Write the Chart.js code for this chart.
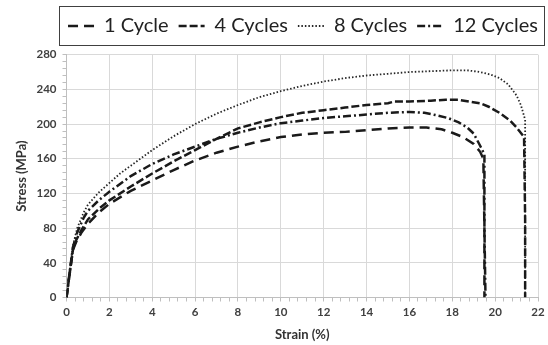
<!DOCTYPE html>
<html>
<head>
<meta charset="utf-8">
<script src="https://cdn.jsdelivr.net/npm/chart.js@4.4.1/dist/chart.umd.min.js"></script>
<style>
  html, body { margin: 0; padding: 0; background: #fff; }
  #wrap { width: 548px; height: 345px; }
</style>
</head>
<body>
<div id="wrap"><canvas id="grafico" width="548" height="345"></canvas></div>
<script>
// valores: deformação (%) x tensão (MPa)
const seriesNames = ['1 Cycle', '4 Cycles', '8 Cycles', '12 Cycles'];

const strain1 = [0, 0.15, 0.3, 0.45, 0.7, 1.0, 1.5, 2.0, 3.0, 4.0, 5.0, 6.0, 7.0, 8.0, 9.0, 10.0, 11.0, 12.0, 13.0, 14.0, 15.0, 16.0, 16.8, 17.5, 18.0, 18.5, 19.0, 19.3, 19.45, 19.5, 19.5];
const stress1 = [0, 28, 55, 64, 75, 85, 98, 108, 123, 135, 147, 158, 167, 174, 180, 185, 188, 190, 191, 193, 195, 196, 196, 194, 190, 185, 177, 168, 160, 80, 0];

const strain4 = [0, 0.15, 0.3, 0.45, 0.7, 1.0, 1.5, 2.0, 3.0, 4.0, 5.0, 6.0, 7.0, 8.0, 9.0, 10.0, 11.0, 12.0, 13.0, 14.0, 15.0, 15.3, 16.0, 17.0, 17.7, 18.3, 18.8, 19.3, 19.7, 20.2, 20.7, 21.0, 21.35, 21.4, 21.4];
const stress4 = [0, 28, 55, 66, 78, 90, 102, 112, 128, 143, 157, 170, 183, 195, 202, 208, 213, 216, 219, 222, 224, 226, 226, 227, 228, 228, 226, 224, 220, 213, 204, 196, 185, 90, 0];

const strain8 = [0, 0.15, 0.3, 0.5, 0.8, 1.0, 1.5, 2.0, 2.5, 3.0, 4.0, 5.0, 6.0, 7.0, 8.0, 9.0, 10.0, 11.0, 12.0, 13.0, 14.0, 15.0, 16.0, 17.0, 18.0, 18.7, 19.3, 19.8, 20.2, 20.6, 21.0, 21.2, 21.4, 21.4, 21.4];
const stress8 = [0, 30, 60, 80, 98, 107, 121, 132, 143, 152, 170, 186, 200, 212, 222, 231, 238, 244, 249, 253, 256, 258, 260, 261, 262, 262, 260, 257, 253, 246, 233, 222, 205, 100, 0];

const strain12 = [0, 0.15, 0.3, 0.5, 0.8, 1.0, 1.5, 2.0, 3.0, 4.0, 5.0, 6.0, 7.0, 8.0, 9.0, 10.0, 11.0, 12.0, 13.0, 14.0, 15.0, 16.0, 16.7, 17.3, 17.8, 18.3, 18.7, 19.0, 19.3, 19.5, 19.5, 19.55];
const stress12 = [0, 30, 58, 75, 92, 100, 112, 122, 140, 154, 165, 174, 183, 190, 196, 201, 204, 207, 209, 211, 213, 214, 213, 210, 207, 202, 196, 189, 175, 165, 80, 0];

const xTickLabels = [0, 2, 4, 6, 8, 10, 12, 14, 16, 18, 20, 22];
const yTickLabels = [0, 40, 80, 120, 160, 200, 240, 280];

const pontos = (xs, ys) => xs.map((x, i) => ({ x: x, y: ys[i] }));
const ehRotulo = (lista, v) => lista.some(t => Math.abs(t - v) < 1e-6);

const FONTE = "Lato, 'Open Sans', sans-serif";

// moldura em volta da legenda, como no original
const molduraLegenda = {
  id: 'molduraLegenda',
  afterDraw(chart) {
    const lg = chart.legend;
    if (!lg || !lg.legendHitBoxes || !lg.legendHitBoxes.length) return;
    const hb = lg.legendHitBoxes;
    const a = hb[0], b = hb[hb.length - 1];
    const c = chart.ctx;
    c.save();
    c.strokeStyle = '#404040';
    c.lineWidth = 1;
    const x0 = Math.round(a.left - 9) + 0.5;
    const x1 = Math.round(b.left + b.width + 6) + 0.5;
    const y0 = Math.round(a.top - 10) + 0.5;
    const y1 = Math.round(a.top + a.height + 9) + 0.5;
    c.strokeRect(x0, y0, x1 - x0, y1 - y0);
    c.restore();
  }
};

// espaço vazio entre a legenda e a área do gráfico
const espaco = {
  id: 'espaco',
  beforeInit(chart) {
    const caixa = {
      position: 'top', weight: 500, fullSize: true, options: {},
      width: 0, height: 0, left: 0, top: 0, right: 0, bottom: 0,
      isHorizontal() { return true; },
      update(maxWidth) { this.width = maxWidth; this.height = 8.7; },
      draw() {}
    };
    Chart.layouts.addBox(chart, caixa);
  }
};

const ctx = document.getElementById('grafico').getContext('2d');
const chart = new Chart(ctx, {
  type: 'line',
  data: {
    datasets: [
      { label: seriesNames[0], data: pontos(strain1, stress1), borderColor: '#1a1a1a', borderWidth: 2.5, borderDash: [10, 6] },
      { label: seriesNames[1], data: pontos(strain4, stress4), borderColor: '#1a1a1a', borderWidth: 2.5, borderDash: [8, 3] },
      { label: seriesNames[2], data: pontos(strain8, stress8), borderColor: '#262626', borderWidth: 1.8, borderDash: [1.5, 2] },
      { label: seriesNames[3], data: pontos(strain12, stress12), borderColor: '#1a1a1a', borderWidth: 2.5, borderDash: [8, 3, 2, 3] }
    ]
  },
  options: {
    responsive: false,
    animation: false,
    devicePixelRatio: 1,
    layout: { padding: { top: 6, right: 0, bottom: 0, left: 0 } },
    elements: {
      point: { radius: 0, hoverRadius: 0, pointStyle: 'line' },
      line: { tension: 0, fill: false }
    },
    plugins: {
      tooltip: { enabled: false },
      legend: {
        position: 'top',
        align: 'end',
        labels: {
          usePointStyle: true,
          pointStyle: 'line',
          pointStyleWidth: 26,
          padding: 10,
          color: '#222',
          font: { family: FONTE, size: 20 },
          generateLabels: c => Chart.defaults.plugins.legend.labels.generateLabels(c).map((item, i) => {
            const ds = c.data.datasets[i];
            return Object.assign(item, { lineDash: ds.borderDash, lineWidth: ds.borderWidth, strokeStyle: ds.borderColor, pointStyle: 'line' });
          })
        }
      }
    },
    scales: {
      x: {
        type: 'linear',
        min: 0, max: 22,
        ticks: {
          stepSize: 0.4,
          autoSkip: false,
          maxRotation: 0,
          padding: 4,
          color: '#404040',
          font: { family: FONTE, size: 11.5, weight: 'bold' },
          callback: v => ehRotulo(xTickLabels, v) ? String(Math.round(v)) : ''
        },
        grid: {
          color: c => c.tick && ehRotulo(xTickLabels, c.tick.value) ? '#d9d9d9' : 'rgba(0,0,0,0)',
          tickColor: '#bfbfbf',
          tickLength: 4
        },
        border: { color: '#bfbfbf' },
        title: {
          display: true, text: 'Strain (%)', color: '#333',
          font: { family: FONTE, size: 13, weight: 'bold' },
          padding: { top: 2, bottom: 2 }
        },
        afterFit: s => { s.height = 47.5; s.paddingRight = 10; s.paddingLeft = 0; }
      },
      y: {
        min: 0, max: 280,
        ticks: {
          stepSize: 8,
          autoSkip: false,
          padding: 6,
          color: '#404040',
          font: { family: FONTE, size: 11.5, weight: 'bold' },
          callback: v => ehRotulo(yTickLabels, v) ? String(Math.round(v)) : ''
        },
        grid: {
          color: c => c.tick && ehRotulo(yTickLabels, c.tick.value) ? '#d9d9d9' : 'rgba(0,0,0,0)',
          tickColor: '#bfbfbf',
          tickLength: 4
        },
        border: { color: '#bfbfbf' },
        title: {
          display: true, text: 'Stress (MPa)', color: '#333',
          font: { family: FONTE, size: 13, weight: 'bold' },
          padding: { top: 14, bottom: 0 }
        },
        afterFit: s => { s.width = 66.5; }
      }
    }
  },
  plugins: [molduraLegenda, espaco]
});
</script>
</body>
</html>
